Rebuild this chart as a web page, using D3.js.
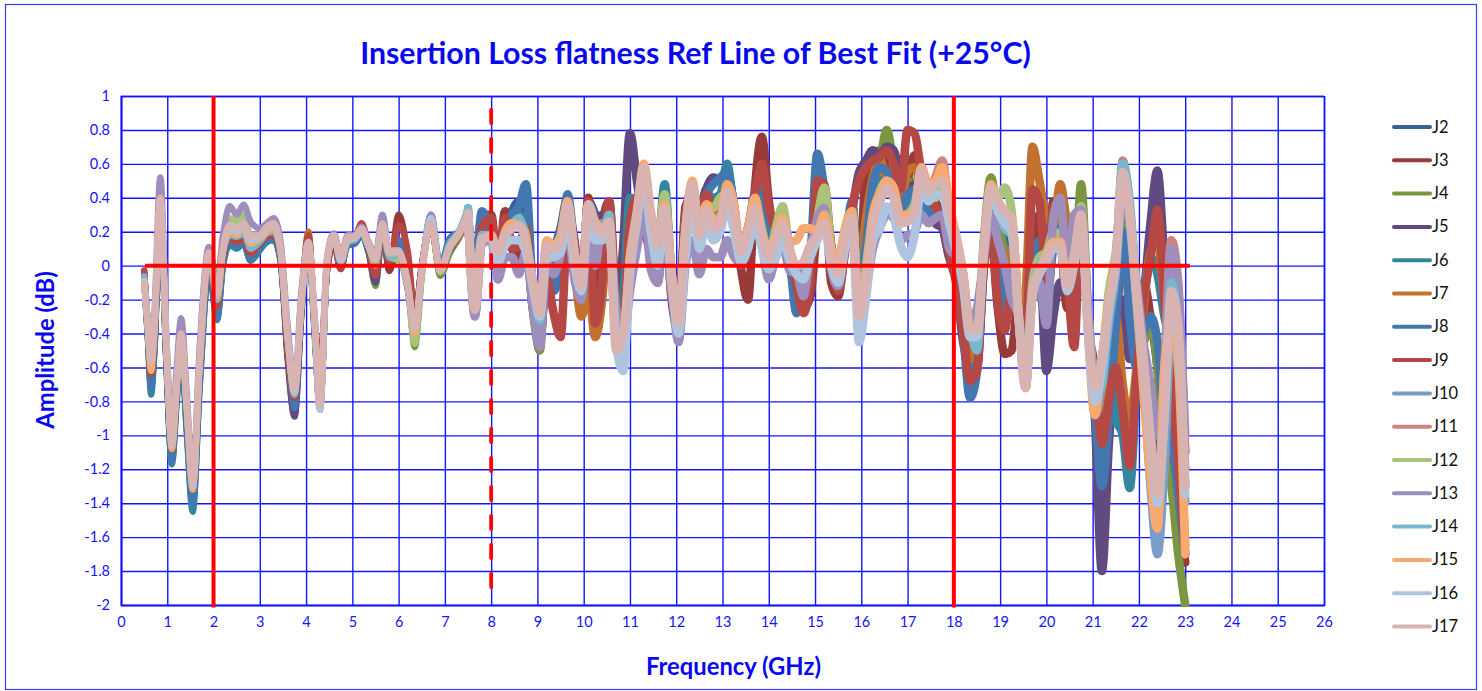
<!DOCTYPE html>
<html><head><meta charset="utf-8">
<script src="https://cdn.jsdelivr.net/npm/d3@7"></script>
<style>html,body{margin:0;padding:0;background:#fff}svg{display:block}text{font-family:Lato,sans-serif}</style>
</head><body><div id="c"></div>
<script>
const chartTitle="Insertion Loss flatness Ref Line of Best Fit (+25°C)";
const xLabel="Frequency (GHz)", yLabel="Amplitude (dB)";
const xTicks=d3.range(0,27);
const yTicks=[1,0.8,0.6,0.4,0.2,0,-0.2,-0.4,-0.6,-0.8,-1,-1.2,-1.4,-1.6,-1.8,-2];
const freq=[.5,.58,.65,.72,.85,.98,1.1,1.2,1.3,1.42,1.55,1.7,1.9,2.08,2.2,2.35,2.5,2.65,2.8,3,3.15,3.3,3.45,3.6,3.75,3.9,4.05,4.18,4.3,4.45,4.6,4.75,4.9,5.05,5.2,5.35,5.5,5.65,5.8,6,6.2,6.35,6.5,6.7,6.9,7.1,7.3,7.5,7.65,7.8,8,
8.15,8.3,8.45,8.6,8.75,8.9,9.05,9.2,9.35,9.5,
9.65,9.8,9.95,10.1,10.25,10.4,10.55,10.7,10.85,11,
11.15,11.3,11.45,11.6,11.75,11.9,12.05,12.2,12.35,12.5,
12.65,12.8,12.95,13.1,13.25,13.4,13.55,13.7,13.85,14,
14.15,14.3,14.45,14.6,14.75,14.9,15.05,15.2,15.35,15.5,
15.65,15.8,15.95,16.1,16.25,16.4,16.55,16.7,16.85,17,
17.15,17.3,17.45,17.6,17.75,17.9,18.05,18.2,18.35,18.5,
18.65,18.8,18.95,19.1,19.25,19.4,19.55,19.7,19.85,20,
20.15,20.3,20.45,20.6,20.75,20.9,21.05,21.2,21.35,21.5,
21.65,21.8,21.95,22.1,22.25,22.4,22.55,22.7,22.85,23];
// amplitudes in hundredths of a dB
const J2=[-5,-40,-72,-50,32,-55,-115,-80,-48,-95,-142,-70,-2,-30,0,13,12,14,5,10,14,16,3,-48,-82,-25,15,-35,-80,-2,15,0,13,14,19,8,-3,21,-3,14,-2,-30,0,26,-2,12,20,27,-5,25,20,
5,20,32,38,22,-12,-38,5,10,22,
40,5,-20,38,30,18,28,-35,-38,10,
28,40,12,0,28,-15,-35,15,45,30,
45,35,38,55,35,5,18,40,25,0,
5,18,0,-15,-8,10,30,42,8,-10,
12,35,-15,5,45,55,60,50,32,35,
42,45,38,30,28,15,5,-25,-60,-50,
5,38,25,15,10,-28,-55,-10,-10,-15,
15,25,0,-5,25,-30,-80,-85,-50,-20,
40,20,-40,-80,-95,-110,-90,-40,-55,-120];
const J3=[-3,-38,-68,-45,34,-52,-112,-76,-44,-90,-136,-64,2,-28,2,14,13,13,3,11,14,17,4,-55,-88,-28,18,-32,-72,-4,13,-2,17,16,24,10,-8,21,-3,30,5,-30,0,24,-3,10,17,30,-8,30,30,
-5,32,10,5,15,-25,-45,-5,-10,15,
30,15,-25,40,-30,22,38,-28,-45,15,
40,25,10,-10,35,-20,-38,35,40,22,
40,30,35,40,28,-2,-20,45,76,38,
18,25,5,-18,-25,-18,25,45,-10,-18,
10,30,-10,55,62,68,60,50,35,50,
65,55,42,38,25,5,-10,-45,-58,-60,
0,18,-25,-52,-50,-20,-50,15,30,-20,
38,20,-25,-5,30,-35,-60,-100,-80,-45,
20,-5,-50,-10,-30,-60,-110,-120,-140,-175];
const J4=[-8,-42,-70,-46,33,-55,-114,-78,-46,-92,-138,-66,3,-26,4,16,15,16,8,12,16,18,5,-46,-80,-24,15,-36,-84,-4,14,-1,14,15,20,9,-12,20,2,4,-12,-48,-6,24,-6,7,16,28,-14,18,16,
2,15,22,30,18,-25,-50,5,8,12,
32,5,-20,32,18,12,30,-38,-50,12,
28,48,15,5,28,-10,-32,18,40,25,
35,30,33,42,32,5,22,35,24,-2,
12,30,8,-12,-12,5,22,40,12,-8,
12,32,-18,8,40,60,80,58,28,38,
50,48,38,30,28,10,0,-22,-50,-45,
15,52,28,8,0,-25,-60,-5,-15,-30,
18,30,-5,-15,48,-30,-80,-140,-70,-20,
30,10,-35,-45,-30,-60,-110,-130,-170,-200];
const J5=[-6,-40,-70,-48,34,-54,-113,-77,-46,-90,-136,-66,2,-25,3,14,13,14,6,12,15,17,4,-52,-89,-27,16,-34,-78,-3,14,-2,14,14,20,8,-10,20,1,5,-8,-42,-4,24,-4,9,17,28,-16,20,22,
0,15,30,28,20,-15,-45,2,5,18,
32,8,-22,30,25,30,28,-35,10,78,
50,22,8,-5,30,-15,-30,25,42,30,
45,52,50,45,30,0,20,40,55,22,
10,22,5,-12,-15,5,22,32,8,-12,
10,32,55,62,68,65,70,68,52,45,
48,40,35,25,22,5,0,-28,-60,-50,
5,25,0,-25,-15,-25,-45,5,5,-62,
-30,-10,-15,-30,22,-30,-90,-180,-105,-50,
-20,-55,-55,-20,25,56,5,-25,-60,-110];
const J6=[-7,-42,-76,-52,30,-58,-117,-82,-50,-98,-145,-72,-4,-32,-1,12,10,13,3,9,14,15,2,-50,-80,-24,14,-36,-85,-2,14,0,12,13,18,9,-4,18,3,6,-6,-38,-3,26,-2,9,18,30,-12,22,18,
3,18,28,30,24,-15,-40,5,12,18,
38,6,-18,34,22,16,30,-30,-20,40,
38,30,12,10,48,-8,-30,22,42,28,
42,40,42,60,30,5,20,42,30,0,
10,22,2,-18,-18,6,24,35,8,-10,
18,30,-15,5,32,48,52,45,30,32,
40,44,30,28,30,12,2,-25,-60,-45,
5,32,10,-2,5,-28,-60,-10,-5,-18,
10,20,-5,-15,22,-35,-70,-95,-60,-90,
-100,-131,-70,-20,5,-5,-30,-50,-95,-130];
const J7=[-4,-36,-62,-42,36,-50,-108,-74,-42,-86,-130,-60,4,-22,5,16,15,18,8,14,20,18,6,-45,-78,-22,20,-32,-78,-1,16,1,15,16,21,12,-2,24,6,9,-8,-36,-2,25,-3,10,18,29,-10,20,25,
0,16,28,25,15,-12,-38,5,5,15,
30,-2,-30,-15,-42,-20,30,-35,-40,5,
25,35,10,-2,30,-18,-28,28,40,25,
38,32,35,40,30,5,18,35,38,0,
18,30,8,-14,-15,2,18,32,10,-10,
15,35,-5,28,52,62,52,50,38,55,
58,48,40,32,28,10,-2,-30,-55,-48,
2,30,-5,-22,10,-30,-15,70,50,28,
25,48,25,15,30,-35,-70,-95,-70,-30,
-70,-92,-60,-25,8,15,-20,-40,-85,-165];
const J8=[-6,-40,-72,-50,32,-55,-115,-78,-47,-94,-140,-68,0,-30,1,14,12,14,5,11,15,16,4,-47,-84,-26,16,-38,-80,-2,15,0,12,13,18,10,-3,20,2,15,0,-32,-2,30,0,16,20,28,-4,32,18,
2,20,30,35,48,-15,-42,8,-15,0,
42,12,-10,36,20,12,28,-32,-30,18,
35,25,15,10,40,-12,-30,25,42,28,
42,48,52,55,35,5,15,38,50,15,
15,30,5,-28,-15,5,66,45,12,-12,
12,38,-12,10,48,58,55,48,35,42,
45,48,35,28,30,15,-5,-40,-78,-62,
0,32,10,-25,-5,-28,-55,-10,15,-25,
15,22,-15,-15,25,-30,-85,-130,-90,-35,
20,-30,-60,-40,-30,-45,-90,-100,-135,-170];
const J9=[-3,-36,-64,-44,34,-50,-108,-74,-42,-86,-132,-62,3,-24,4,16,14,16,7,13,17,18,6,-50,-78,-22,18,-30,-60,-3,13,-2,16,17,25,11,-6,22,2,24,8,-28,-1,24,-3,10,17,28,-12,22,28,
-8,28,10,12,22,-25,-38,-8,-28,-42,
20,12,-18,38,-34,-10,38,-22,-38,25,
40,30,8,-8,32,-15,-35,30,45,28,
42,34,36,45,30,0,22,42,60,35,
22,28,8,-12,-28,-8,50,48,10,-15,
8,35,50,58,62,64,68,60,45,80,
78,55,42,35,28,8,-8,-38,-68,-62,
0,22,-22,-38,-15,-22,-50,45,38,-8,
35,38,-5,-48,30,-35,-65,-105,-80,-60,
-85,-118,-65,-20,5,33,-20,-70,-115,-170];
const J10=[-8,-38,-60,-40,36,-48,-105,-72,-42,-84,-130,-58,6,-20,7,18,18,20,12,15,20,22,8,-42,-76,-22,13,-32,-84,0,17,2,14,15,20,12,2,24,6,7,-10,-38,-3,25,-3,10,18,30,-22,16,16,
4,18,25,25,15,-15,-35,8,10,15,
35,6,-12,34,22,16,25,-42,-50,5,
32,50,25,8,32,-6,-34,20,45,18,
32,24,26,42,28,6,20,34,20,4,
14,24,8,-5,0,10,18,26,6,-6,
18,28,-30,-8,28,38,45,40,26,28,
32,50,42,46,50,30,12,-10,-42,-45,
10,44,36,28,25,-28,-70,-15,-5,3,
12,12,-12,3,28,-35,-88,-70,-35,-5,
45,25,-22,-70,-130,-170,-120,-40,-60,-140];
const J11=[-8,-36,-58,-38,38,-46,-104,-70,-40,-82,-128,-56,7,-18,8,20,19,22,14,16,22,23,9,-42,-74,-22,14,-30,-82,2,18,3,16,16,21,12,3,25,7,8,-12,-40,-4,25,-3,10,18,30,-28,15,17,
6,17,22,26,15,-10,-30,12,10,14,
36,8,-12,36,24,19,26,-45,-48,2,
30,55,30,12,34,-5,-40,20,48,18,
33,22,25,44,30,8,20,34,18,5,
16,25,10,-2,2,12,18,25,5,-5,
18,28,-35,-10,25,38,46,40,25,26,
32,58,44,52,62,34,16,-5,-38,-38,
10,46,38,32,28,-30,-72,-15,-2,5,
12,12,-12,5,30,-35,-72,-55,-22,2,
62,35,-15,-55,-100,-135,-60,15,-10,-110];
const J12=[-8,-38,-58,-38,42,-48,-104,-70,-38,-82,-128,-56,9,-16,12,28,26,30,18,18,22,24,10,-40,-72,-18,14,-30,-84,2,17,3,15,16,20,12,0,28,5,3,-14,-46,-6,26,-4,10,19,32,-24,15,16,
6,16,24,26,18,-20,-30,10,12,14,
34,4,-14,33,22,15,26,-35,-50,5,
25,42,18,15,42,-5,-32,18,42,22,
36,34,40,42,26,10,20,38,22,6,
22,35,10,0,0,10,28,46,10,-5,
22,32,-25,0,30,44,50,44,28,30,
36,46,40,40,46,28,12,-8,-40,-38,
12,44,40,46,32,-28,-60,-10,5,8,
20,18,-5,8,35,-25,-65,-55,-15,8,
50,30,-18,-55,-110,-150,-90,-25,-40,-130];
const J13=[-6,-33,-55,-30,52,-40,-100,-62,-31,-75,-125,-48,11,-10,17,35,30,36,26,22,25,28,14,-35,-70,-15,14,-28,-84,4,19,6,18,18,23,14,6,30,8,8,-15,-38,-3,30,-2,13,20,33,-30,13,15,
-8,5,5,-5,8,-25,-48,2,-5,6,
22,-8,-20,18,0,25,18,-25,-48,-15,
10,35,-2,-10,20,-15,-45,0,15,-5,
10,5,5,15,5,2,10,30,12,-8,
5,12,-3,-5,-18,8,28,34,-2,-12,
12,22,-32,-15,10,22,30,28,15,18,
20,30,25,28,30,10,5,-10,-35,-25,
5,30,15,0,-20,-30,-60,-15,-10,-35,
28,40,-5,30,33,-25,-70,-65,-30,0,
40,25,-10,-45,-70,-100,-70,10,-15,-100];
const J14=[-7,-36,-58,-38,38,-48,-106,-72,-42,-84,-130,-60,6,-20,8,18,17,19,10,14,19,20,8,-42,-76,-22,13,-32,-84,1,17,2,14,16,20,12,2,23,5,7,-10,-40,-4,28,-3,13,20,34,-18,18,17,
8,19,24,28,14,-12,-32,14,10,16,
36,8,-14,33,24,18,30,-40,-52,2,
30,52,28,15,36,-8,-34,22,48,18,
32,28,28,40,30,8,18,32,18,4,
14,24,8,0,0,10,16,25,8,-8,
18,30,-28,-5,28,42,50,40,28,30,
36,54,44,48,56,32,14,-8,-35,-50,
12,44,34,22,18,-30,-62,-15,0,5,
10,10,-8,8,28,-35,-75,-70,-30,2,
60,38,-14,-55,-100,-140,-85,-10,-40,-130];
const J15=[-9,-36,-62,-40,38,-48,-108,-74,-42,-84,-132,-58,6,-18,8,20,18,22,13,16,20,22,8,-42,-75,-22,13,-30,-84,1,17,3,15,16,20,11,3,23,7,8,-11,-40,-4,25,-3,11,18,30,-22,15,17,
5,20,25,24,15,-8,-26,15,12,18,
38,8,-10,36,26,22,25,-45,-40,5,
32,60,32,14,36,-4,-32,22,50,20,
36,26,28,48,36,10,22,40,20,8,
18,28,14,15,22,22,20,30,10,5,
22,32,-28,-6,30,42,50,46,30,30,
34,58,48,50,58,36,18,-4,-36,-38,
12,48,38,30,28,-30,-70,-14,-3,6,
14,14,-10,6,30,-40,-88,-55,-20,4,
50,30,-20,-75,-125,-155,-60,-35,-60,-170];
const J16=[-9,-34,-56,-36,39,-46,-106,-71,-41,-82,-130,-56,7,-16,9,22,20,23,15,17,22,24,9,-41,-74,-21,13,-30,-85,2,17,3,16,16,21,12,4,24,8,8,-12,-37,-3,28,-3,11,19,30,-24,16,17,
2,12,15,15,8,-12,-30,5,5,8,
28,0,-15,28,15,15,20,-45,-62,-5,
25,50,20,0,28,-10,-40,5,38,10,
25,15,20,35,20,2,10,25,10,-2,
5,15,3,-5,-8,5,15,22,0,-10,
10,22,-45,-20,15,22,35,30,12,5,
18,45,38,42,42,25,8,-12,-42,-42,
8,42,32,25,20,-32,-72,-18,-5,2,
10,10,-15,0,25,-40,-80,-60,-25,0,
55,30,-18,-60,-105,-140,-90,-20,-40,-135];
const J17=[-10,-35,-55,-35,40,-45,-105,-70,-40,-80,-128,-55,8,-15,10,24,22,25,17,18,23,25,10,-40,-72,-20,14,-30,-82,3,18,5,17,17,22,13,5,25,9,9,-12,-36,-3,25,-3,11,19,31,-26,15,18,
8,18,22,24,14,-10,-28,12,10,14,
36,8,-12,36,24,19,26,-50,-42,0,
30,58,30,12,34,-5,-34,20,48,18,
33,22,25,44,30,8,20,34,18,5,
16,25,10,0,2,12,18,25,5,-5,
18,28,-30,-10,25,38,46,40,25,26,
32,56,44,48,50,32,16,-5,-38,-38,
10,46,38,32,28,-30,-72,-15,-2,5,
12,12,-12,5,30,-35,-72,-55,-22,2,
55,32,-15,-55,-100,-135,-85,-15,-35,-130];
const seriesNames=["J2","J3","J4","J5","J6","J7","J8","J9","J10","J11","J12","J13","J14","J15","J16","J17"];
const seriesValues=[J2,J3,J4,J5,J6,J7,J8,J9,J10,J11,J12,J13,J14,J15,J16,J17];
const seriesColors=["#3a6095","#983a38","#7a9640","#614a80","#34869e","#c2722e","#4477b0","#b54744","#7a9cc8","#cb8583","#a9c47a","#9d8ebb","#78b8cf","#f8a970","#afc4de","#d9b3b1"];
const refH={x:[0.52,23.1],y:[0,0]};
const refV=[2,18], refDash=[8];
const noisyFrom=7.5; // above this frequency the traces are visibly broader

const W=1482,H=691,L=121,R=1324,T=96,B=605;
const x=d3.scaleLinear().domain([0,26]).range([L,R]);
const y=d3.scaleLinear().domain([-2,1]).range([B,T]);
const blue="#1414ff";
const svg=d3.select("#c").append("svg").attr("width",W).attr("height",H);
svg.append("rect").attr("width",W).attr("height",H).attr("fill","#fff");
svg.append("rect").attr("x",5.5).attr("y",4.5).attr("width",1471).attr("height",685).attr("fill","none").attr("stroke","#3c3cff").attr("stroke-width",1.2);
svg.append("defs").append("clipPath").attr("id","plot").append("rect").attr("x",L-2).attr("y",T).attr("width",R-L+4).attr("height",B-T+2);

const gx=svg.append("g").attr("transform",`translate(0,${B})`).call(d3.axisBottom(x).tickValues(xTicks).tickSize(-(B-T)).tickPadding(12).tickFormat(d3.format("d")));
const gy=svg.append("g").attr("transform",`translate(${L},0)`).call(d3.axisLeft(y).tickValues(yTicks).tickSize(-(R-L)).tickPadding(11).tickFormat(d=>String(d)));
[gx,gy].forEach(g=>{
  g.selectAll("line").attr("stroke",blue).attr("stroke-width",1.4);
  g.select(".domain").attr("stroke",blue).attr("stroke-width",1.6);
  g.selectAll("text").attr("fill",blue).attr("font-size",14.5).attr("font-family","Lato,sans-serif");
});

const line=d3.line().x(d=>x(d[0])).y(d=>y(d[1]/100)).curve(d3.curveMonotoneX);
const g=svg.append("g").attr("clip-path","url(#plot)");
seriesValues.forEach((vals,i)=>{
  const pts=vals.map((v,k)=>[freq[k],v]);
  [[pts.filter(p=>p[0]<=noisyFrom),6.4],[pts.filter(p=>p[0]>=noisyFrom),8.6]].forEach(([seg,w])=>{
    g.append("path").attr("d",line(seg)).attr("fill","none").attr("stroke",seriesColors[i]).attr("stroke-width",w)
     .attr("stroke-linejoin","round").attr("stroke-linecap","round");
  });
});
const rl=d3.line().x(d=>x(d[0])).y(d=>y(d[1]));
svg.append("path").attr("d",rl([[refH.x[0],0],[refH.x[1],0]])).attr("stroke","#ff0000").attr("stroke-width",4).attr("fill","none");
refV.forEach(v=>svg.append("line").attr("x1",x(v)).attr("x2",x(v)).attr("y1",T).attr("y2",B+2.5).attr("stroke","#ff0000").attr("stroke-width",4));
refDash.forEach(v=>svg.append("line").attr("x1",x(v)).attr("x2",x(v)).attr("y1",110).attr("y2",594).attr("stroke","#ff0000").attr("stroke-width",3.8).attr("stroke-linecap","round").attr("stroke-dasharray","13 16"));

const ly=d3.scalePoint().domain(seriesNames).range([127,626.5]);
const lg=svg.append("g").selectAll("g").data(seriesNames).join("g").attr("transform",d=>`translate(0,${ly(d)})`);
lg.append("line").attr("x1",1394).attr("x2",1430).attr("stroke",(d,i)=>seriesColors[i]).attr("stroke-width",4).attr("stroke-linecap","round");
lg.append("text").attr("x",1432).attr("y",5.5).attr("font-size",16.5).attr("fill","#111").text(d=>d);

svg.append("text").attr("x",695.5).attr("y",64).attr("text-anchor","middle").attr("font-size",30.3).attr("font-weight",700).attr("fill","#0808f0").text(chartTitle);
svg.append("text").attr("x",733.5).attr("y",675).attr("text-anchor","middle").attr("font-size",23.8).attr("font-weight",700).attr("fill","#0808f0").text(xLabel);
svg.append("text").attr("transform","translate(54,350) rotate(-90)").attr("text-anchor","middle").attr("font-size",23.8).attr("font-weight",700).attr("fill","#0808f0").text(yLabel);
</script></body></html>
